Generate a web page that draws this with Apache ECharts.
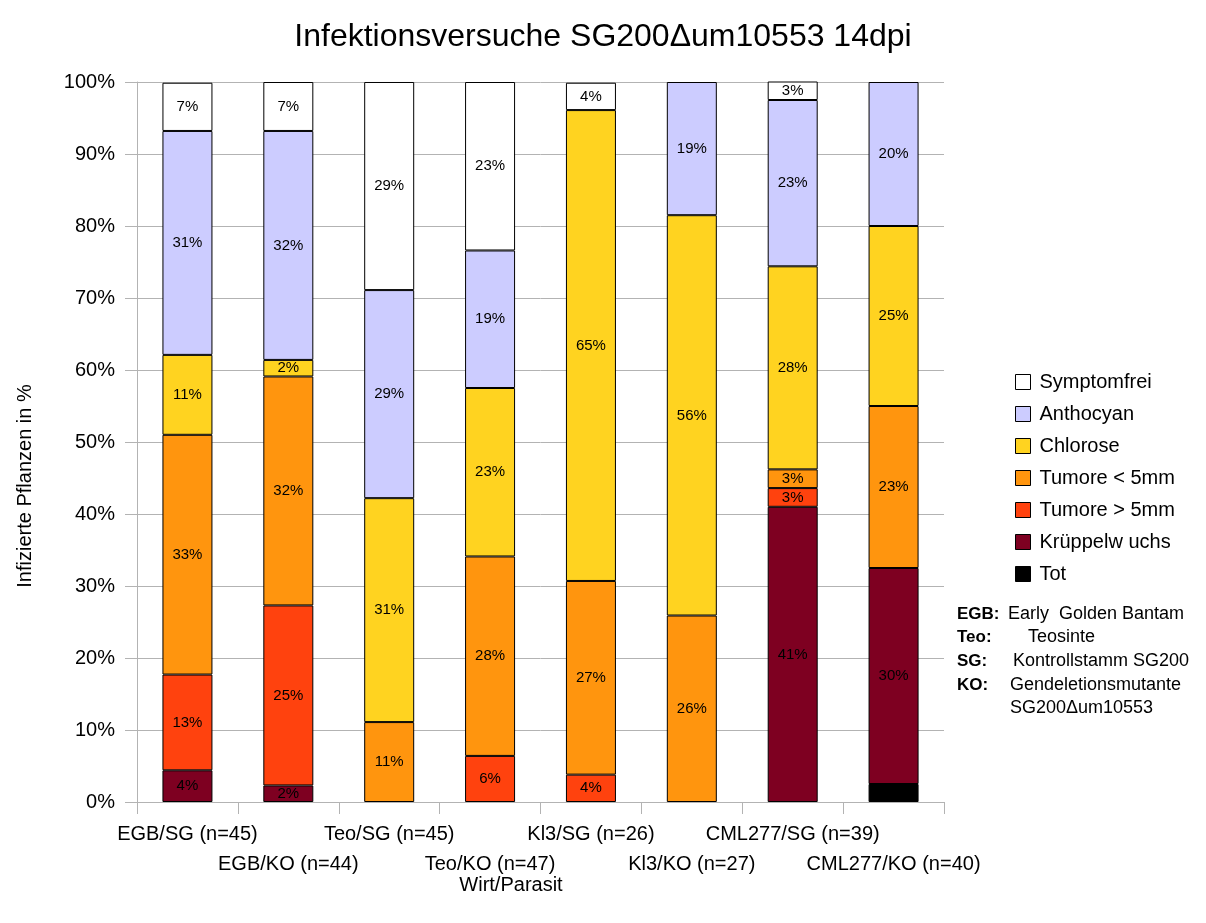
<!DOCTYPE html>
<html>
<head>
<meta charset="utf-8">
<script src="https://cdn.jsdelivr.net/npm/echarts@6/dist/echarts.min.js"></script>
<style>
  html, body { margin: 0; padding: 0; background: #fff; }
  #chart { width: 1206px; height: 923px; }
</style>
</head>
<body>
<div id="chart"></div>
<script>
// Kategorien (Wirt/Parasit)
const categories = [
  'EGB/SG (n=45)', 'EGB/KO (n=44)', 'Teo/SG (n=45)', 'Teo/KO (n=47)',
  'Kl3/SG (n=26)', 'Kl3/KO (n=27)', 'CML277/SG (n=39)', 'CML277/KO (n=40)'
]

// Anteile in %, von unten nach oben gestapelt
const tot          = [0,    0,    0,    0,    0,    0,    0,    2.5]
const krueppel     = [4.4,  2.3,  0,    0,    0,    0,    41.0, 30.0]
const tumoreGross  = [13.3, 25.0, 0,    6.4,  3.8,  0,    2.6,  0]
const tumoreKlein  = [33.3, 31.8, 11.1, 27.7, 26.9, 25.9, 2.6,  22.5]
const chlorose     = [11.1, 2.3,  31.1, 23.4, 65.4, 55.6, 28.2, 25.0]
const anthocyan    = [31.1, 31.8, 28.9, 19.1, 0,    18.5, 23.1, 20.0]
const symptomfrei  = [6.7,  6.8,  28.9, 23.4, 3.8,  0,    2.6,  0]

const seriesDefs = [
  { name: 'Tot', data: tot, color: '#000000' },
  { name: 'Krüppelw uchs', data: krueppel, color: '#7e0021' },
  { name: 'Tumore > 5mm', data: tumoreGross, color: '#ff420e' },
  { name: 'Tumore < 5mm', data: tumoreKlein, color: '#ff950e' },
  { name: 'Chlorose', data: chlorose, color: '#ffd320' },
  { name: 'Anthocyan', data: anthocyan, color: '#ccccff' },
  { name: 'Symptomfrei', data: symptomfrei, color: '#ffffff' }
]

const legendOrder = ['Symptomfrei', 'Anthocyan', 'Chlorose', 'Tumore < 5mm', 'Tumore > 5mm', 'Krüppelw uchs', 'Tot']

const font = '"Liberation Sans", Arial, sans-serif'
const gray = '#b3b3b3'

const chart = echarts.init(document.getElementById('chart'))

// Legende der Abkürzungen rechts unten
const infoRows = [
  { key: 'EGB:', text: 'Early  Golden Bantam', x: 1008, y: 614 },
  { key: 'Teo:', text: 'Teosinte', x: 1028, y: 637 },
  { key: 'SG:', text: 'Kontrollstamm SG200', x: 1013, y: 661 },
  { key: 'KO:', text: 'Gendeletionsmutante', x: 1010, y: 685 },
  { key: '', text: 'SG200Δum10553', x: 1010, y: 708 }
]

const graphics = [
  {
    type: 'text', x: 511, y: 885,
    style: { text: 'Wirt/Parasit', font: '20px ' + font, fill: '#000', align: 'center', verticalAlign: 'middle' }
  },
  {
    type: 'text', x: 25, y: 486, rotation: Math.PI / 2,
    style: { text: 'Infizierte Pflanzen in %', font: '20px ' + font, fill: '#000', align: 'center', verticalAlign: 'middle' }
  }
]
infoRows.forEach((r) => {
  if (r.key) {
    graphics.push({
      type: 'text', x: 957, y: r.y,
      style: { text: r.key, font: 'bold 17px ' + font, fill: '#000', verticalAlign: 'middle' }
    })
  }
  graphics.push({
    type: 'text', x: r.x, y: r.y,
    style: { text: r.text, font: '18px ' + font, fill: '#000', verticalAlign: 'middle' }
  })
})

chart.setOption({
  backgroundColor: '#fff',
  animation: false,
  textStyle: { fontFamily: font },
  title: {
    text: 'Infektionsversuche SG200Δum10553 14dpi',
    left: 'center',
    top: 16,
    textStyle: { fontSize: 32, fontWeight: 'normal', color: '#000', fontFamily: font }
  },
  legend: {
    data: legendOrder,
    orient: 'vertical',
    left: 1010,
    top: 367,
    itemWidth: 15,
    itemHeight: 15,
    itemGap: 12,
    icon: 'rect',
    itemStyle: { borderColor: '#000', borderWidth: 1 },
    textStyle: { fontSize: 20, color: '#000', fontFamily: font, padding: [0, 0, 0, 4] }
  },
  grid: { left: 137, right: 262, top: 82, bottom: 121, containLabel: false },
  xAxis: {
    type: 'category',
    data: categories,
    axisLine: { lineStyle: { color: gray } },
    axisTick: { show: true, length: 12, lineStyle: { color: gray } },
    axisLabel: {
      interval: 0,
      fontSize: 20,
      color: '#000',
      lineHeight: 30,
      margin: 17,
      formatter: (v, i) => (i % 2 ? '\n' + v : v)
    }
  },
  yAxis: {
    type: 'value',
    min: 0,
    max: 100,
    interval: 10,
    axisLine: { show: true, lineStyle: { color: gray } },
    axisTick: { show: true, length: 12, lineStyle: { color: gray } },
    splitLine: { lineStyle: { color: gray } },
    axisLabel: { formatter: '{value}%', fontSize: 20, color: '#000', margin: 22 }
  },
  graphic: graphics,
  series: seriesDefs.map((s) => ({
    name: s.name,
    type: 'bar',
    stack: 'total',
    barWidth: 50,
    data: s.data.map((v) => (v > 0 ? v : '-')),
    itemStyle: { color: s.color, borderColor: '#000', borderWidth: 1 },
    label: {
      show: true,
      position: 'inside',
      color: '#000',
      fontSize: 15,
      formatter: (p) => (p.value > 0 ? Math.round(p.value) + '%' : '')
    }
  }))
})
</script>
</body>
</html>
